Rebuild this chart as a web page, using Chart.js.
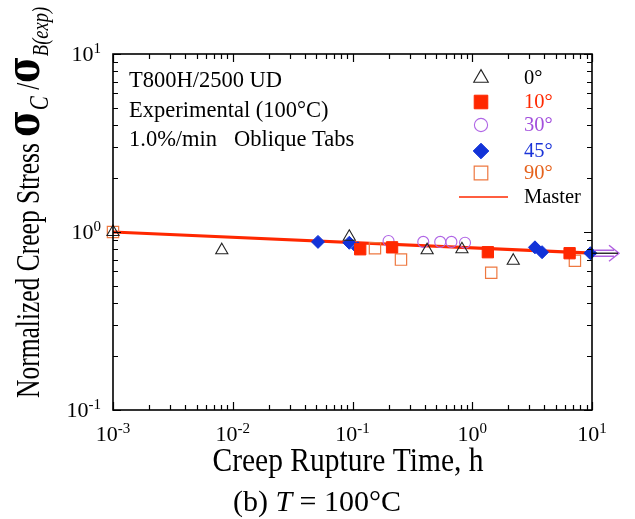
<!DOCTYPE html>
<html>
<head>
<meta charset="utf-8">
<script src="https://cdn.jsdelivr.net/npm/chart.js@4.4.1/dist/chart.umd.min.js"></script>
<style>
  html, body { margin: 0; padding: 0; background: #fff; }
  #wrap { width: 635px; height: 519px; position: relative; }
</style>
</head>
<body>
<div id="wrap"><canvas id="creep"></canvas></div>
<script>
// creep rupture time (h) and normalized creep stress, per fibre angle
const time0 = [0.001, 0.0081, 0.094, 0.42, 0.82, 2.2];
const stress0 = [1.0, 0.79, 0.94, 0.79, 0.80, 0.69];

const time10 = [0.116, 0.214, 1.35, 6.5];
const stress10 = [0.80, 0.82, 0.77, 0.76];

const time30 = [0.20, 0.39, 0.54, 0.67, 0.87];
const stress30 = [0.89, 0.88, 0.88, 0.88, 0.87];

const time45 = [0.0515, 0.094, 0.111, 3.34, 3.83, 9.7];
const stress45 = [0.88, 0.87, 0.81, 0.82, 0.77, 0.76];

const time90 = [0.001, 0.154, 0.254, 1.44, 7.2];
const stress90 = [1.0, 0.81, 0.70, 0.59, 0.69];

// master curve end points
const masterTime = [0.001, 10];
const masterStress = [1.0, 0.76];

// run-out specimen (still unbroken at end of test)
const runoutTime = 10;
const runoutStress = 0.76;

const xDecades = [-3, -2, -1, 0, 1];
const yDecades = [-1, 0, 1];

const notes = ['T800H/2500 UD', 'Experimental (100\u00b0C)', '1.0%/min   Oblique Tabs'];

const serif = '"Liberation Serif", "Times New Roman", serif';

const pts = (xs, ys) => xs.map((v, i) => ({ x: v, y: ys[i] }));

function supText(ctx, base, exp, x, y, align, size) {
  const small = Math.round(size * 0.66);
  ctx.font = size + 'px ' + serif;
  const wb = ctx.measureText(base).width;
  ctx.font = small + 'px ' + serif;
  const we = ctx.measureText(exp).width;
  const w = wb + we;
  const x0 = align === 'center' ? x - w / 2 : align === 'right' ? x - w : x;
  ctx.textAlign = 'left';
  ctx.textBaseline = 'alphabetic';
  ctx.font = size + 'px ' + serif;
  ctx.fillText(base, x0, y);
  ctx.font = small + 'px ' + serif;
  ctx.fillText(exp, x0 + wb, y - size * 0.36);
}

// draws a run of text pieces {t, font, dy} one after another
function runText(ctx, parts, x, y) {
  let cx = x;
  for (const p of parts) {
    ctx.font = p.font;
    ctx.fillText(p.t, cx, y + (p.dy || 0));
    cx += ctx.measureText(p.t).width;
  }
  return cx - x;
}
function runWidth(ctx, parts) {
  let w = 0;
  for (const p of parts) { ctx.font = p.font; w += ctx.measureText(p.t).width; }
  return w;
}

const frame = {
  id: 'frame',
  afterDatasetsDraw(chart) {
    const { ctx, chartArea: a, scales: { x, y } } = chart;
    ctx.save();
    ctx.strokeStyle = '#000';
    ctx.fillStyle = '#000';

    // inward ticks on all four sides
    ctx.lineWidth = 1.2;
    ctx.beginPath();
    for (let i = 0; i < xDecades.length; i++) {
      const e = xDecades[i];
      const px = Math.round(x.getPixelForValue(Math.pow(10, e))) + 0.5;
      ctx.moveTo(px, a.bottom); ctx.lineTo(px, a.bottom - 8);
      ctx.moveTo(px, a.top); ctx.lineTo(px, a.top + 8);
      if (i < xDecades.length - 1) {
        for (let m = 2; m <= 9; m++) {
          const q = Math.round(x.getPixelForValue(m * Math.pow(10, e))) + 0.5;
          ctx.moveTo(q, a.bottom); ctx.lineTo(q, a.bottom - 5);
          ctx.moveTo(q, a.top); ctx.lineTo(q, a.top + 5);
        }
      }
    }
    for (let i = 0; i < yDecades.length; i++) {
      const e = yDecades[i];
      const py = Math.round(y.getPixelForValue(Math.pow(10, e))) + 0.5;
      ctx.moveTo(a.left, py); ctx.lineTo(a.left + 8, py);
      ctx.moveTo(a.right, py); ctx.lineTo(a.right - 8, py);
      if (i < yDecades.length - 1) {
        for (let m = 2; m <= 9; m++) {
          const q = Math.round(y.getPixelForValue(m * Math.pow(10, e))) + 0.5;
          ctx.moveTo(a.left, q); ctx.lineTo(a.left + 5, q);
          ctx.moveTo(a.right, q); ctx.lineTo(a.right - 5, q);
        }
      }
    }
    ctx.stroke();

    ctx.lineWidth = 1.6;
    ctx.strokeRect(a.left, a.top, a.right - a.left, a.bottom - a.top);

    // tick labels
    for (const e of xDecades) {
      supText(ctx, '10', String(e), x.getPixelForValue(Math.pow(10, e)), a.bottom + 31, 'center', 22);
    }
    for (const e of yDecades) {
      supText(ctx, '10', String(e), a.left - 12, y.getPixelForValue(Math.pow(10, e)) + 7, 'right', 22);
    }

    // run-out arrow
    const rx = x.getPixelForValue(runoutTime);
    const ry = y.getPixelForValue(runoutStress);
    ctx.lineWidth = 1.4;
    ctx.strokeStyle = '#b060e0';
    ctx.beginPath();
    ctx.moveTo(rx + 2, ry - 3); ctx.lineTo(rx + 22, ry - 3);
    ctx.moveTo(rx + 2, ry + 3); ctx.lineTo(rx + 22, ry + 3);
    ctx.moveTo(rx + 17, ry - 8); ctx.lineTo(rx + 27, ry); ctx.lineTo(rx + 17, ry + 8);
    ctx.stroke();
    ctx.strokeStyle = '#000';
    ctx.lineWidth = 1.2;
    ctx.beginPath();
    ctx.moveTo(rx, ry); ctx.lineTo(rx + 26, ry);
    ctx.stroke();

    // annotation block
    ctx.textAlign = 'left';
    ctx.textBaseline = 'alphabetic';
    ctx.font = '22.5px ' + serif;
    notes.forEach((s, i) => ctx.fillText(s, a.left + 16, a.top + 33 + i * 29.5));

    // legend
    const ds = chart.data.datasets;
    const rows = [78, 102, 125, 151, 173, 197];
    ctx.font = '20.5px ' + serif;
    ctx.textBaseline = 'middle';
    ds.forEach((d, i) => {
      const ly = rows[i];
      if (d.showLine) {
        ctx.strokeStyle = d.borderColor;
        ctx.lineWidth = 1.5;
        ctx.beginPath();
        ctx.moveTo(459, ly); ctx.lineTo(508, ly);
        ctx.stroke();
        ctx.fillStyle = '#000';
      } else {
        ctx.fillStyle = d.backgroundColor;
        ctx.strokeStyle = d.borderColor;
        ctx.lineWidth = d.borderWidth;
        Chart.helpers.drawPoint(ctx, { pointStyle: d.pointStyle, radius: d.pointRadius * 1.2, borderWidth: d.borderWidth, rotation: 0 }, 481, ly);
        ctx.fillStyle = d.labelColor;
      }
      ctx.fillText(d.label, 524, ly + 1);
    });

    // axis titles
    ctx.fillStyle = '#000';
    ctx.textBaseline = 'alphabetic';
    ctx.textAlign = 'center';
    ctx.save();
    ctx.translate(348, 471);
    ctx.scale(1, 1.12);
    ctx.font = '29.5px ' + serif;
    ctx.fillText('Creep Rupture Time, h', 0, 0);
    ctx.restore();

    ctx.textAlign = 'left';
    const cap = [
      { t: '(b) ', font: '30px ' + serif },
      { t: 'T', font: 'italic 30px ' + serif },
      { t: ' = 100\u00b0C', font: '30px ' + serif }
    ];
    runText(ctx, cap, 317 - runWidth(ctx, cap) / 2, 511);

    const sigma = 'bold 36px "DejaVu Serif", ' + serif;
    const ytitle = [
      { t: 'Normalized Creep Stress ', font: '25.5px ' + serif },
      { t: '\u03c3', font: sigma },
      { t: 'C', font: 'italic 21px ' + serif, dy: 7 },
      { t: ' /', font: '25.5px ' + serif },
      { t: '\u03c3', font: sigma },
      { t: 'B(exp)', font: 'italic 18.5px ' + serif, dy: 7 }
    ];
    ctx.save();
    ctx.translate(39, 0);
    ctx.rotate(-Math.PI / 2);
    ctx.scale(1, 1.3);
    runText(ctx, ytitle, -398, 0);
    ctx.restore();

    ctx.restore();
  }
};

new Chart(document.getElementById('creep'), {
  type: 'scatter',
  data: {
    datasets: [
      {
        label: '0\u00b0', data: pts(time0, stress0), pointStyle: 'triangle', pointRadius: 7,
        backgroundColor: 'rgba(0,0,0,0)', borderColor: '#222', borderWidth: 1.1, labelColor: '#000', clip: false
      },
      {
        label: '10\u00b0', data: pts(time10, stress10), pointStyle: 'rect', pointRadius: 8,
        backgroundColor: '#ff2800', borderColor: '#ff2800', borderWidth: 1, labelColor: '#ff2800', clip: false
      },
      {
        label: '30\u00b0', data: pts(time30, stress30), pointStyle: 'circle', pointRadius: 5.5,
        backgroundColor: 'rgba(0,0,0,0)', borderColor: '#b066e6', borderWidth: 1.1, labelColor: '#a24fdc', clip: false
      },
      {
        label: '45\u00b0', data: pts(time45, stress45), pointStyle: 'rectRot', pointRadius: 6.5,
        backgroundColor: '#1233d8', borderColor: '#1233d8', borderWidth: 1, labelColor: '#1a33d8', clip: false
      },
      {
        label: '90\u00b0', data: pts(time90, stress90), pointStyle: 'rect', pointRadius: 8,
        backgroundColor: 'rgba(0,0,0,0)', borderColor: '#ee7840', borderWidth: 1.2, labelColor: '#e5621c', clip: false
      },
      {
        label: 'Master', data: pts(masterTime, masterStress), showLine: true, pointRadius: 0,
        borderColor: '#ff2800', borderWidth: 3.2, clip: false
      }
    ]
  },
  options: {
    responsive: true,
    maintainAspectRatio: false,
    animation: false,
    layout: { padding: { left: 113, right: 43, top: 54, bottom: 109 } },
    plugins: { legend: { display: false }, tooltip: { enabled: false } },
    scales: {
      x: { type: 'logarithmic', min: 0.001, max: 10, display: false },
      y: { type: 'logarithmic', min: 0.1, max: 10, display: false }
    }
  },
  plugins: [frame]
});
</script>
</body>
</html>
